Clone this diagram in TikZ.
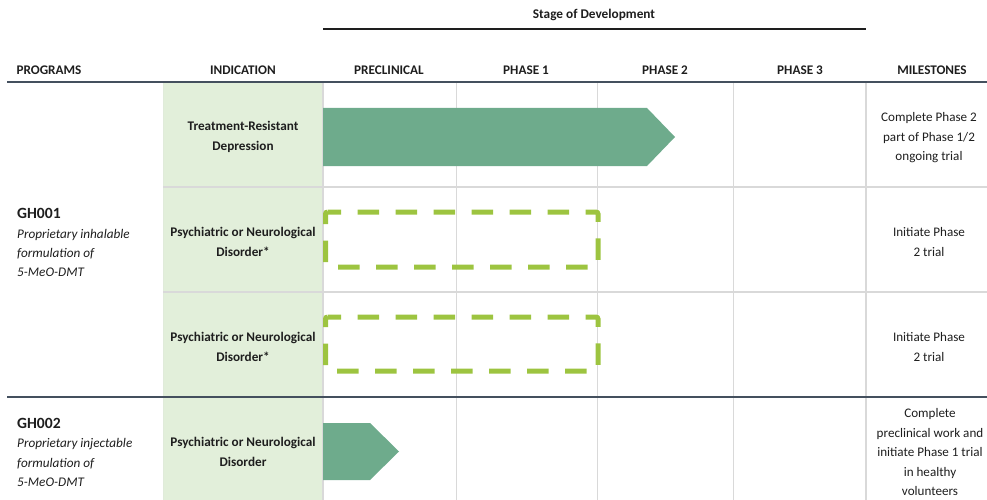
\documentclass[tikz,border=0pt]{standalone}
\usepackage{fontspec}
\setmainfont{Carlito}
\definecolor{arrowgreen}{RGB}{110,171,140}
\definecolor{dashgreen}{RGB}{157,196,64}
\definecolor{colfill}{RGB}{226,239,218}
\definecolor{gridgrey}{RGB}{217,217,217}
\definecolor{darkline}{RGB}{68,80,94}
\definecolor{txt}{RGB}{30,30,30}
\tikzset{
  hdr/.style={font=\bfseries\fontsize{13.2}{15}\selectfont, text=txt, inner sep=0pt},
  indtext/.style={font=\bfseries\fontsize{13.2}{19.5}\selectfont, text=txt, align=center, inner sep=0pt},
  mstext/.style={font=\fontsize{13.1}{19.5}\selectfont, text=txt, align=center, inner sep=0pt},
  progtitle/.style={font=\bfseries\fontsize{15.6}{18}\selectfont, text=txt, anchor=west, inner sep=0pt},
  progdesc/.style={font=\itshape\fontsize{13.2}{19.2}\selectfont, text=txt, align=left, anchor=north west, inner sep=0pt},
  gridline/.style={draw=gridgrey, line width=1.3pt},
  sectionline/.style={draw=darkline, line width=1.6pt},
  filledarrow/.style={fill=arrowgreen, draw=none},
  dashedbox/.style={draw=dashgreen, line width=5pt, rounded corners=2pt, dash pattern=on 21.5pt off 16.5pt, dash phase=8pt}
}
\begin{document}
\begin{tikzpicture}[x=1pt,y=-1pt]
\useasboundingbox (0,0) rectangle (987,500);
% green indication column
\fill[colfill] (163,82) rectangle (323,500);
\draw[draw=colfill!80!gridgrey, line width=0.8pt] (163,82) -- (163,500);
% grid lines
\draw[gridline] (323,82) -- (323,500);
\foreach \gx in {456.5,597.5,733.5,866} {\draw[gridline] (\gx,82) -- (\gx,500);}
\draw[gridline] (163,187) -- (987,187);
\draw[gridline] (163,292) -- (987,292);
% stage header line
\coordinate (stgL) at (323,29);
\coordinate (stgR) at (866,29);
\draw[draw=txt, line width=2.4pt] (stgL) -- (stgR);
\node[hdr, font=\bfseries\fontsize{13.3}{15}\selectfont] (stage) at (594,15) {Stage of Development};
% column headers
\node[hdr] (hprog) at (49,70) {PROGRAMS};
\node[hdr] (hind) at (243,70) {INDICATION};
\node[hdr] (hpre) at (389,70) {PRECLINICAL};
\node[hdr] (hp1) at (526,70) {PHASE 1};
\node[hdr] (hp2) at (665,70) {PHASE 2};
\node[hdr] (hp3) at (800,70) {PHASE 3};
\node[hdr] (hms) at (932,70) {MILESTONES};
% section lines
\draw[sectionline] (7,82) -- (987,82);
\draw[sectionline] (7,397) -- (987,397);
% progress arrows
\path[filledarrow] (323,108) -- (647,108) -- (675,137) -- (647,166) -- (323,166) -- cycle;
\path[filledarrow] (323,423) -- (370,423) -- (399,451.5) -- (370,480) -- (323,480) -- cycle;
% dashed boxes
\draw[dashedbox] (325.5,212) -- (598,212) -- (598,267) -- (325.5,267) -- cycle;
\draw[dashedbox] (325.5,317) -- (598,317) -- (598,371) -- (325.5,371) -- cycle;
% programs
\node[progtitle] (gh1) at (17,213) {GH001};
\node[progdesc] (gh1d) at (17,229) {Proprietary inhalable\\formulation of\\5-MeO-DMT};
\node[progtitle] (gh2) at (17,423) {GH002};
\node[progdesc] (gh2d) at (17,438.5) {Proprietary injectable\\formulation of\\5-MeO-DMT};
% indications
\node[indtext] (ind1) at (243,137) {Treatment-Resistant\\Depression};
\node[indtext] (ind2) at (243,242) {Psychiatric or Neurological\\Disorder*};
\node[indtext] (ind3) at (243,347) {Psychiatric or Neurological\\Disorder*};
\node[indtext] (ind4) at (243,452) {Psychiatric or Neurological\\Disorder};
% milestones
\node[mstext] (ms1) at (929,138) {Complete Phase 2\\part of Phase 1/2\\ongoing trial};
\node[mstext] (ms2) at (929,242) {Initiate Phase\\2 trial};
\node[mstext] (ms3) at (929,347) {Initiate Phase\\2 trial};
\node[mstext] (ms4) at (930,452) {Complete\\preclinical work and\\initiate Phase 1 trial\\in healthy\\volunteers};
\end{tikzpicture}
\end{document}
